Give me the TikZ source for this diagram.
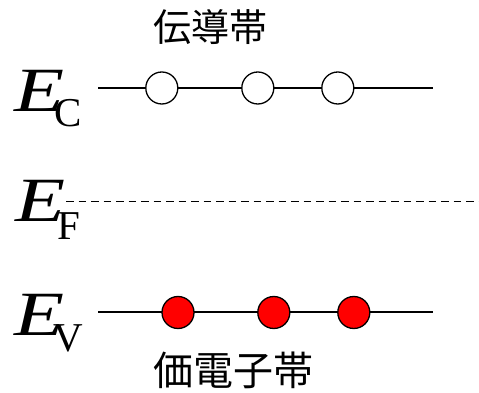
\documentclass[tikz,border=0pt]{standalone}
\usepackage{fontspec}
\setmainfont{Liberation Serif}
\newfontfamily\jpfont{Noto Sans CJK JP}
\newcommand{\bandlabel}[3]{{\fontsize{63}{63}\selectfont\itshape\scalebox{1.3}[1]{E}}\kern#2\raisebox{#3}{\fontsize{41}{41}\selectfont\upshape #1}}
\begin{document}
\begin{tikzpicture}[x=1pt,y=1pt,
  level/.style={line width=2pt},
  hole/.style={circle,draw,line width=1.3pt,fill=white,minimum size=32pt,inner sep=0pt},
  elec/.style={circle,draw,line width=1.3pt,fill=red,minimum size=32pt,inner sep=0pt},
  elabel/.style={anchor=base west,inner sep=0pt},
  jp/.style={inner sep=0pt,font=\fontsize{38}{38}\selectfont\jpfont},
  jpb/.style={inner sep=0pt,font=\fontsize{40}{40}\selectfont\jpfont}]
\useasboundingbox (0,0) rectangle (479,393);
% conduction band
\coordinate (ecL) at (98,305);
\coordinate (ecR) at (433,305);
\draw[level] (ecL) -- (ecR);
\node[hole] (h1) at (161.8,305) {};
\node[hole] (h2) at (257.8,305) {};
\node[hole] (h3) at (337.8,305) {};
\node[elabel] (Ec) at (14,281) {\bandlabel{C}{-10pt}{-14.5pt}};
\node[jp] (cb) at (210,366) {伝導帯};
% Fermi level
\coordinate (efL) at (66,191.5);
\coordinate (efR) at (479,191.5);
\draw[line width=1.5pt,dash pattern=on 7.5pt off 5pt] (efL) -- (efR);
\node[elabel] (Ef) at (15,171) {\bandlabel{F}{-8pt}{-18pt}};
% valence band
\coordinate (evL) at (98,80.5);
\coordinate (evR) at (433,80.5);
\draw[level] (evL) -- (evR);
\node[elec] (e1) at (178,80.5) {};
\node[elec] (e2) at (273.8,80.5) {};
\node[elec] (e3) at (353.8,80.5) {};
\node[elabel] (Ev) at (14,57) {\bandlabel{V}{-11pt}{-15.5pt}};
\node[jpb] (vb) at (233.5,23) {価電子帯};
\end{tikzpicture}
\end{document}
